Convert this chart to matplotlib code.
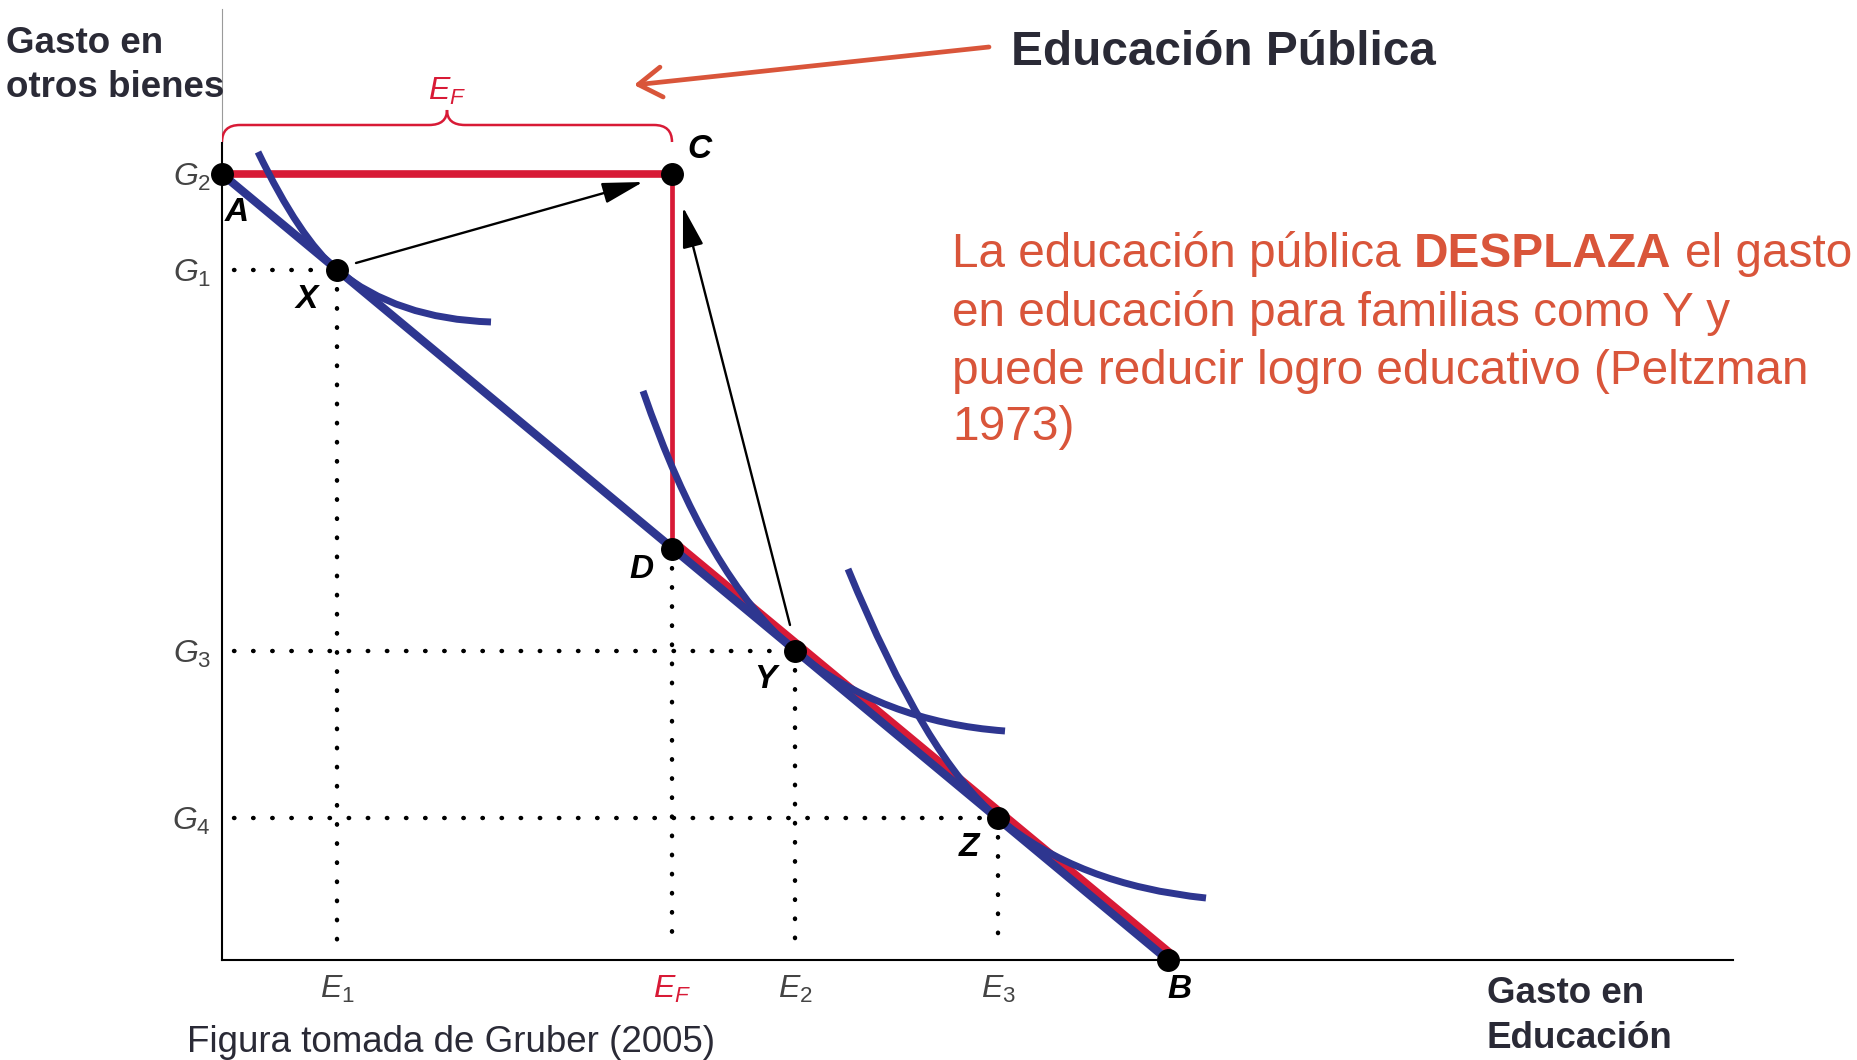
import matplotlib
matplotlib.use("Agg")
import matplotlib.pyplot as plt
import matplotlib.transforms as mtransforms
from matplotlib.path import Path
from matplotlib.patches import PathPatch

# valores (x: gasto en educacion, y: gasto en otros bienes)
pt_names = ["A", "X", "C", "D", "Y", "Z", "B"]
pt_x = [0.00, 1.15, 4.50, 4.50, 5.73, 7.76, 9.46]
pt_y = [7.86, 6.90, 7.86, 4.11, 3.09, 1.42, 0.00]

g_vals = [7.86, 6.90, 3.09, 1.42]
g_labels = ["$G_2$", "$G_1$", "$G_3$", "$G_4$"]
e_vals = [1.15, 4.50, 5.73, 7.76]
e_labels = ["$E_1$", "$E_F$", "$E_2$", "$E_3$"]

# curvas de indiferencia: inicio, control, tangencia, control, fin
ic1_x = [0.36, 0.78, 1.15, 1.75, 2.69]
ic1_y = [8.08, 7.21, 6.90, 6.41, 6.38]
ic2_x = [4.21, 4.85, 5.73, 6.60, 7.83]
ic2_y = [5.69, 3.83, 3.09, 2.38, 2.29]
ic3_x = [6.26, 7.04, 7.76, 8.56, 9.84]
ic3_y = [3.91, 2.01, 1.42, 0.75, 0.62]

arrow_tail = [(1.34, 6.97), (5.68, 3.35)]
arrow_head = [(4.21, 7.78), (4.61, 7.53)]

BLUE = "#2e3690"
RED = "#d81a36"
ORANGE = "#d9553a"
DARK = "#2a2a36"

plt.rcParams["mathtext.fontset"] = "custom"
plt.rcParams["mathtext.rm"] = "Liberation Sans"
plt.rcParams["mathtext.it"] = "Liberation Sans:italic"
plt.rcParams["font.family"] = ["Liberation Sans", "DejaVu Sans"]

W, H = 1858, 1060
fig = plt.figure(figsize=(W / 100, H / 100), dpi=100)
ax = fig.add_axes([222 / W, 100 / H, 1511 / W, 960 / H])
ax.set_xlim(0, 15.11)
ax.set_ylim(0, 9.60)
for s in ["top", "right"]:
    ax.spines[s].set_visible(False)
ax.spines["left"].set_bounds(0, 8.17)
ax.spines["left"].set_linewidth(1.5)
ax.spines["bottom"].set_linewidth(1.5)
ax.plot([0, 0], [8.17, 9.51], color="#9a9a9a", lw=0.8, clip_on=False)

ax.set_yticks(g_vals, g_labels)
ax.set_xticks(e_vals, e_labels)
ax.tick_params(length=0, labelsize=23, labelcolor="#444444")
ax.tick_params(axis="y", pad=8)
ax.tick_params(axis="x", pad=10)
ax.get_xticklabels()[1].set_color(RED)

# lineas punteadas
dots = dict(color="black", lw=3.2, linestyle=(0, (0.1, 4.2)), dash_capstyle="round", zorder=1)
for i in [1, 4, 5]:
    ax.plot([0.12, pt_x[i]], [pt_y[i], pt_y[i]], **dots)
    ax.plot([pt_x[i], pt_x[i]], [pt_y[i], 0.1], **dots)
ax.plot([pt_x[3], pt_x[3]], [pt_y[3], 0.1], **dots)

# restriccion con educacion publica (roja)
ax.plot([pt_x[0], pt_x[2]], [pt_y[0], pt_y[2]], color=RED, lw=5.5, solid_capstyle="butt", zorder=2)
ax.plot([pt_x[2], pt_x[3]], [pt_y[2], pt_y[3]], color=RED, lw=3.4, zorder=2)
shift = mtransforms.offset_copy(ax.transData, fig=fig, x=4.4, y=5.3, units="dots")
ax.plot([pt_x[3], pt_x[6]], [pt_y[3], pt_y[6]], color=RED, lw=5.5, transform=shift,
        solid_capstyle="butt", zorder=2)

# restriccion original (azul)
ax.plot([pt_x[0], pt_x[6]], [pt_y[0], pt_y[6]], color=BLUE, lw=6, zorder=3)

codes = [Path.MOVETO, Path.CURVE3, Path.CURVE3, Path.CURVE3, Path.CURVE3]
for cx, cy in [(ic1_x, ic1_y), (ic2_x, ic2_y), (ic3_x, ic3_y)]:
    ax.add_patch(PathPatch(Path(list(zip(cx, cy)), codes), fill=False,
                           edgecolor=BLUE, lw=5, capstyle="butt", zorder=3))

# llave E_F
x0, x1 = 0.0, pt_x[2]
xm = (x0 + x1) / 2
yl, yb, yt = 8.18, 8.35, 8.50
brace = Path([(x0, yl), (x0, yb), (x0 + 0.18, yb), (xm - 0.18, yb),
              (xm, yb), (xm, yt), (xm, yb), (xm + 0.18, yb),
              (x1 - 0.18, yb), (x1, yb), (x1, yl)],
             [Path.MOVETO, Path.CURVE3, Path.CURVE3, Path.LINETO,
              Path.CURVE3, Path.CURVE3, Path.CURVE3, Path.CURVE3,
              Path.LINETO, Path.CURVE3, Path.CURVE3])
ax.add_patch(PathPatch(brace, fill=False, edgecolor=RED, lw=1.8, zorder=2))
ax.text(xm, 8.69, "$E_F$", color=RED, fontsize=23, ha="center", va="center")

# flechas negras
for t, h in zip(arrow_tail, arrow_head):
    ax.annotate("", xy=h, xytext=t,
                arrowprops=dict(arrowstyle="-|>,head_length=1.4,head_width=0.36",
                                mutation_scale=18, color="black", lw=1.7,
                                shrinkA=0, shrinkB=0), zorder=4)

# puntos
ax.plot(pt_x, pt_y, "o", color="black", ms=15.5, zorder=5, clip_on=False)
offs = [(10.8, -28), (-22, -21), (19.4, 17.3), (-22.3, -14.4), (-21.6, -20.2), (-20.9, -21.6), (8.6, -20.9)]
for n, x, y, o in zip(pt_names, pt_x, pt_y, offs):
    ax.annotate(n, (x, y), xytext=o, textcoords="offset points", ha="center", va="center",
                fontsize=24, fontweight="bold", fontstyle="italic", color="black", zorder=6)

# flecha naranja "Educacion Publica"
ax.annotate("", xy=(4.12, 8.75), xytext=(7.67, 9.13),
            arrowprops=dict(arrowstyle="->,head_length=0.7,head_width=0.45",
                            mutation_scale=24, color=ORANGE, lw=3.4,
                            shrinkA=0, shrinkB=0))


def fx(px):
    return px / W


def fy(py):
    return 1 - py / H


fig.text(fx(6), fy(53), "Gasto en", fontsize=26.5, fontweight="bold", color=DARK)
fig.text(fx(6), fy(97), "otros bienes", fontsize=26.5, fontweight="bold", color=DARK)
fig.text(fx(1487), fy(1003), "Gasto en", fontsize=26.5, fontweight="bold", color=DARK)
fig.text(fx(1487), fy(1048), "Educación", fontsize=26.5, fontweight="bold", color=DARK)
fig.text(fx(187), fy(1052), "Figura tomada de Gruber (2005)", fontsize=26.5, color=DARK)
fig.text(fx(1011), fy(65), "Educación Pública", fontsize=34.4, fontweight="bold", color=DARK)

# texto rojo con palabra en negrita
fs = 34.4
renderer = fig.canvas.get_renderer()
space = 0.278 * fs * 100 / 72
t1 = fig.text(fx(952), fy(267), "La educación pública", fontsize=fs, color=ORANGE)
x_end = t1.get_window_extent(renderer).x1
t2 = fig.text((x_end + space) / W, fy(267), "DESPLAZA", fontsize=fs, fontweight="bold", color=ORANGE)
x_end = t2.get_window_extent(renderer).x1
fig.text((x_end + space) / W, fy(267), "el gasto", fontsize=fs, color=ORANGE)
for line, py in zip(["en educación para familias como Y y",
                     "puede reducir logro educativo (Peltzman",
                     "1973)"], [326, 384, 440]):
    fig.text(fx(952), fy(py), line, fontsize=fs, color=ORANGE)

fig.savefig("out.png", dpi=100)
